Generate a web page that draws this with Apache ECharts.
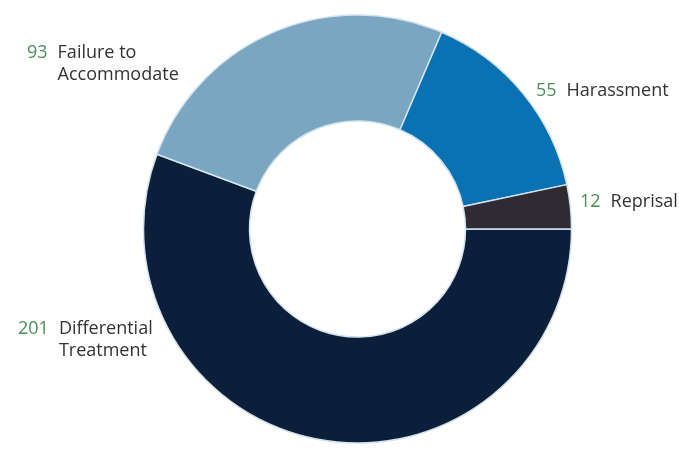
<!DOCTYPE html>
<html>
<head>
<meta charset="utf-8">
<script src="https://cdn.jsdelivr.net/npm/echarts@6/dist/echarts.min.js"></script>
<style>
html,body{margin:0;padding:0;background:#fff;}
#chart{width:679px;height:453px;}
</style>
</head>
<body>
<div id="chart"></div>
<script>
// Data
const categories = ['Differential\nTreatment', 'Failure to\nAccommodate', 'Harassment', 'Reprisal'];
const values = [201, 93, 55, 12];
const colors = ['#0b1f3a', '#7ba6c1', '#0a71b3', '#302a34'];

// Label placement (left edge of number, top of first line)
const labelPos = [[18, 318], [27, 42], [536, 80], [580, 191]];

const chart = echarts.init(document.getElementById('chart'), null, {renderer: 'canvas'});

const data = categories.map((c, i) => ({
  name: c,
  value: values[i],
  itemStyle: {color: colors[i]}
}));

const FS = 18, LH = 22, FF = 'Open Sans';

chart.setOption({
  animation: false,
  backgroundColor: '#ffffff',
  series: [{
    type: 'pie',
    center: [357.5, 229],
    radius: [108, 214],
    startAngle: 0,
    clockwise: true,
    avoidLabelOverlap: false,
    itemStyle: {borderColor: '#d3e3ee', borderWidth: 1.5},
    labelLine: {show: false},
    label: {
      show: true,
      position: 'outside',
      formatter: function (p) {
        const lines = p.name.split('\n');
        let s = '{v|' + p.value + '}{n|' + lines[0] + '}';
        for (let k = 1; k < lines.length; k++) {
          s += '\n{h|' + p.value + '}{n|' + lines[k] + '}';
        }
        return s;
      },
      rich: {
        v: {color: '#4a8f57', fontSize: FS, fontFamily: FF, lineHeight: LH},
        h: {color: 'rgba(0,0,0,0)', fontSize: FS, fontFamily: FF, lineHeight: LH},
        n: {color: '#333333', fontSize: FS, fontFamily: FF, lineHeight: LH, padding: [0, 0, 0, 10]}
      }
    },
    labelLayout: function (params) {
      const p = labelPos[params.dataIndex];
      return {x: p[0], y: p[1], align: 'left', verticalAlign: 'top'};
    },
    data: data
  }]
});
</script>
</body>
</html>
